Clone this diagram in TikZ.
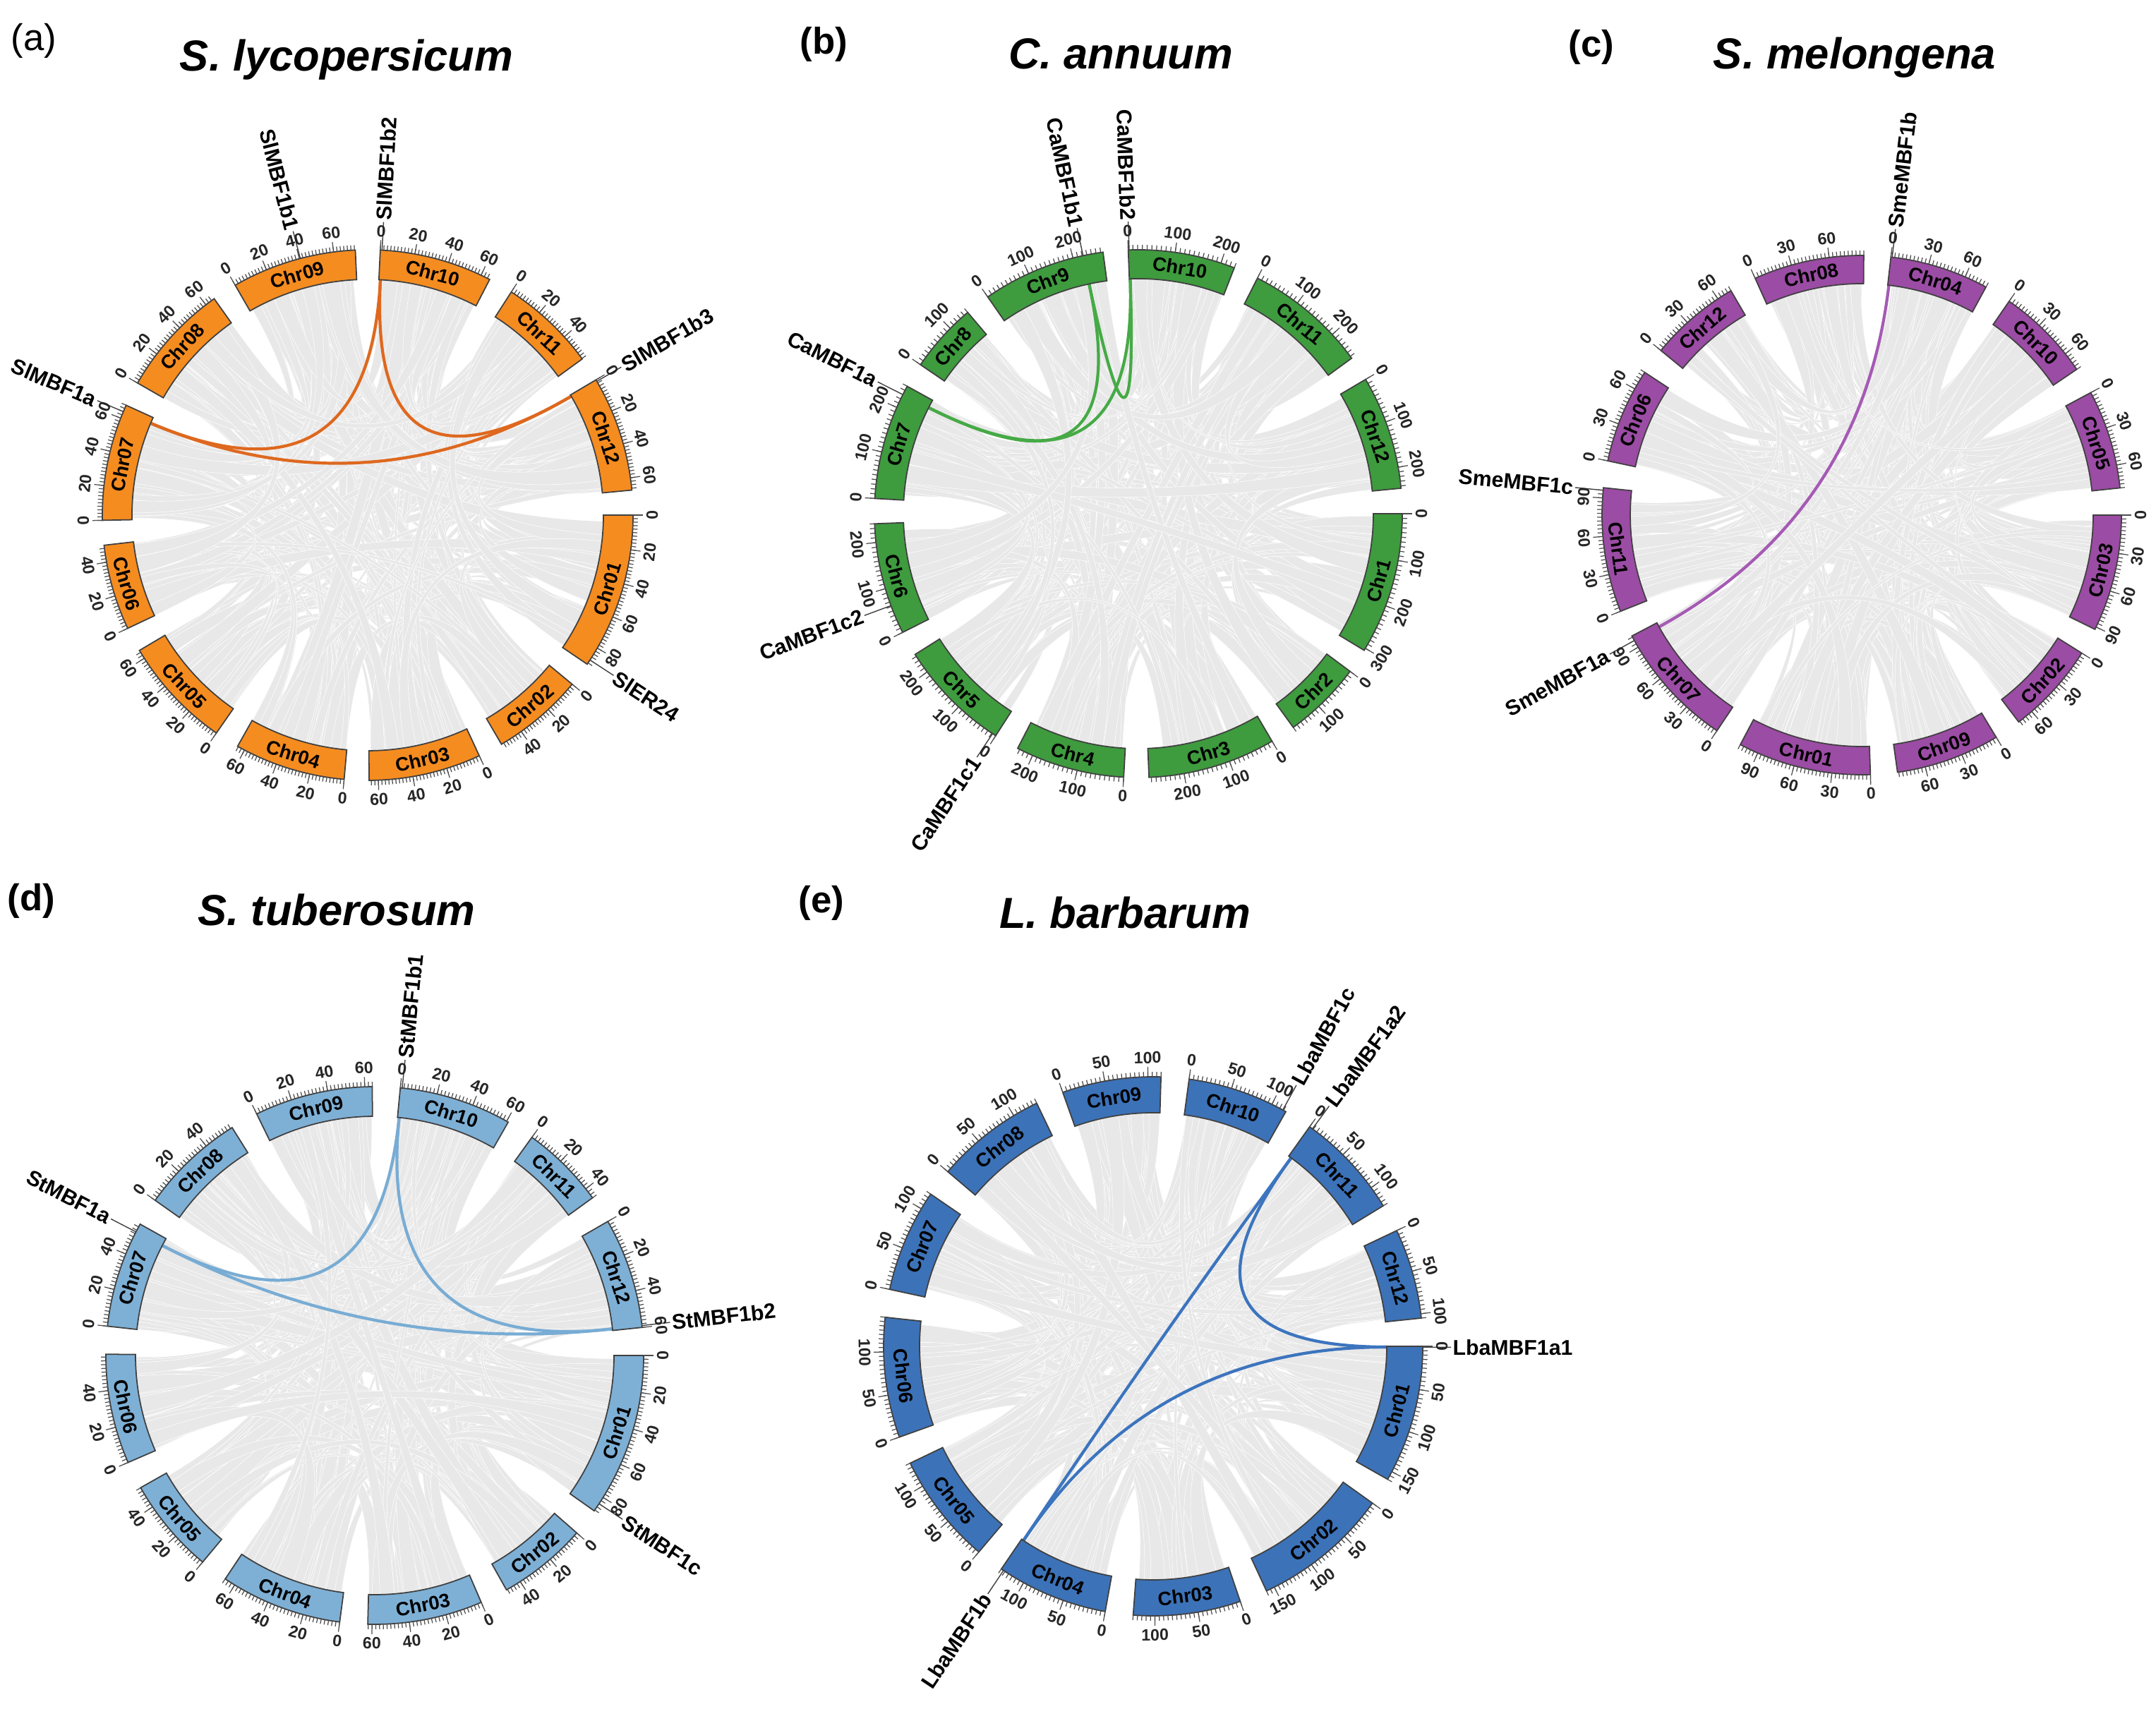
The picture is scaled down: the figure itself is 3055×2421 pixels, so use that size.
\documentclass[tikz,border=0pt]{standalone}
\usepackage{fontspec}
\setmainfont{Liberation Sans}
\usetikzlibrary{positioning}

\definecolor{tomato}{RGB}{245,140,32}
\definecolor{tomatolink}{RGB}{222,104,30}
\definecolor{pepper}{RGB}{62,155,62}
\definecolor{pepperlink}{RGB}{70,170,70}
\definecolor{eggplant}{RGB}{155,76,164}
\definecolor{eggplantlink}{RGB}{165,90,180}
\definecolor{potato}{RGB}{126,176,214}
\definecolor{potatolink}{RGB}{120,172,212}
\definecolor{goji}{RGB}{60,114,184}
\definecolor{gojilink}{RGB}{60,116,190}

\tikzset{
  ribbon/.style={fill=black!9, draw=white, line width=0.15pt},
  chrbox/.style={draw=black!75, line width=0.5pt},
  chrname/.style={font=\fontsize{7.8}{9}\selectfont\bfseries, inner sep=0pt},
  tickmark/.style={draw=black!70, line width=0.35pt},
  ticklab/.style={font=\fontsize{6.6}{7}\selectfont\bfseries, inner sep=0pt, text=black!85},
  genelab/.style={font=\fontsize{8.6}{10}\selectfont\bfseries, inner sep=0pt},
  geneline/.style={draw=black!75, line width=0.4pt},
  hlink/.style={line width=1.2pt},
  paneltag/.style={font=\fontsize{15}{18}\selectfont, inner sep=0pt},
  sptitle/.style={font=\fontsize{17.5}{20}\selectfont\bfseries\itshape, inner sep=0pt}
}

\def\glen{40}

\newcommand{\tangrot}[1]{%
  \pgfmathsetmacro\nrm{mod(#1+720,360)}%
  \pgfmathsetmacro\rot{\nrm<180 ? \nrm-90 : \nrm+90}%
}

\newcommand{\setupchroms}[1]{%
  \xdef\tot{0}%
  \foreach \cname/\clen in {#1} {%
    \pgfmathsetmacro\tmpa{\tot+\clen}\xdef\tot{\tmpa}%
  }%
  \pgfmathsetmacro\degpu{(360-12*\gapd)/\tot}%
  \xdef\acc{0}%
  \foreach \cname/\clen [count=\ci] in {#1} {%
    \pgfmathsetmacro\cst{-(\acc)}%
    \pgfmathsetmacro\csw{\clen*\degpu}%
    \expandafter\xdef\csname chs\ci\endcsname{\cst}%
    \expandafter\xdef\csname chw\ci\endcsname{\csw}%
    \expandafter\xdef\csname chl\ci\endcsname{\clen}%
    \expandafter\xdef\csname chn\ci\endcsname{\cname}%
    \pgfmathsetmacro\tmpa{\acc+\csw+\gapd}\xdef\acc{\tmpa}%
  }%
}

\newcommand{\ribbons}[2]{%
  \pgfmathsetseed{#1}%
  \foreach \ri in {1,...,#2} {%
    \pgfmathrandominteger{\ka}{1}{12}%
    \pgfmathrandominteger{\kd}{1}{11}%
    \pgfmathtruncatemacro{\kb}{mod(\ka+\kd-1,12)+1}%
    \pgfmathsetmacro{\wa}{1+3.5*rnd}%
    \pgfmathsetmacro{\qa}{\csname chs\ka\endcsname-(\csname chw\ka\endcsname-\wa)*rnd}%
    \pgfmathsetmacro{\qb}{\qa-\wa}%
    \pgfmathsetmacro{\qc}{\csname chs\kb\endcsname-(\csname chw\kb\endcsname-\wa)*rnd}%
    \pgfmathsetmacro{\qd}{\qc-\wa}%
    \filldraw[ribbon] (\qa:\Ri) arc[start angle=\qa, end angle=\qb, radius=\Ri]
      .. controls (\qb:{\Ri/3}) and (\qc:{\Ri/3}) .. (\qc:\Ri)
      arc[start angle=\qc, end angle=\qd, radius=\Ri]
      .. controls (\qd:{\Ri/3}) and (\qa:{\Ri/3}) .. (\qa:\Ri) -- cycle;
  }%
}

\newcommand{\gene}[4]{%
  \pgfmathsetmacro\gpang{\csname chs#2\endcsname-(#3)*\degpu}%
  \coordinate (#1) at (\gpang:\Ri);%
  \coordinate (#1-h) at (\gpang:{\Ri/3});%
  \pgfmathsetmacro\nrm{mod(\gpang+720,360)}%
  \pgfmathtruncatemacro\rside{(\nrm<90 || \nrm>=270) ? 1 : 0}%
  \ifnum\rside=1 \def\ganc{west}\pgfmathsetmacro\grot{\nrm}%
  \else \def\ganc{east}\pgfmathsetmacro\grot{\nrm+180}\fi
  \draw[geneline] (\gpang:\Ro) -- (\gpang:{\Ro+\glen});%
  \node[genelab, anchor=\ganc, rotate=\grot] (#1-l) at (\gpang:{\Ro+\glen+2}) {#4};%
}

\newcommand{\drawchroms}[3]{%
  \foreach \ci in {1,...,12} {%
    \edef\sa{\csname chs\ci\endcsname}%
    \edef\sw{\csname chw\ci\endcsname}%
    \edef\clen{\csname chl\ci\endcsname}%
    \pgfmathsetmacro\ea{\sa-\sw}%
    \draw[chrbox, fill=#1] (\sa:\Ri) arc[start angle=\sa, end angle=\ea, radius=\Ri]
      -- (\ea:\Ro) arc[start angle=\ea, end angle=\sa, radius=\Ro] -- cycle;%
    \pgfmathsetmacro\ma{\sa-\sw/2}%
    \tangrot{\ma}%
    \node[chrname, rotate=\rot] (\pn-chr\ci) at (\ma:{(\Ri+\Ro)/2}) {\csname chn\ci\endcsname};%
    \draw[tickmark] foreach \p in {0,#2,...,\clen} {({\sa-\p*\degpu}:\Ro) -- ({\sa-\p*\degpu}:{\Ro+7})};%
    \foreach \p in {0,#3,...,\clen} {%
      \pgfmathsetmacro\ta{\sa-\p*\degpu}%
      \pgfmathtruncatemacro\pl{\p}%
      \tangrot{\ta}%
      \draw[tickmark] (\ta:\Ro) -- (\ta:{\Ro+14});%
      \node[ticklab, rotate=\rot] (\pn-tk\ci-\pl) at (\ta:{\Ro+27}) {\pl};%
    }%
  }%
}

\begin{document}
\begin{tikzpicture}[x=0.01cm, y=0.01cm]
\fill[white] (0,0) rectangle (3055,2421);
\useasboundingbox (0,0) rectangle (3055,2421);

\node[paneltag, anchor=base west] (taga) at (15,2349) {(a)};
\node[sptitle, anchor=base] (titlea) at (491,2320) {S. lycopersicum};
\node[paneltag, anchor=base west, font=\fontsize{15}{18}\selectfont\bfseries] (tagb) at (1133,2344) {(b)};
\node[sptitle, anchor=base] (titleb) at (1588,2323) {C. annuum};
\node[paneltag, anchor=base west, font=\fontsize{15}{18}\selectfont\bfseries] (tagc) at (2222,2340) {(c)};
\node[sptitle, anchor=base] (titlec) at (2628,2323) {S. melongena};
\node[paneltag, anchor=base west, font=\fontsize{15}{18}\selectfont\bfseries] (tagd) at (10,1130) {(d)};
\node[sptitle, anchor=base] (titled) at (477,1109) {S. tuberosum};
\node[paneltag, anchor=base west, font=\fontsize{15}{18}\selectfont\bfseries] (tage) at (1131,1127) {(e)};
\node[sptitle, anchor=base] (titlee) at (1594,1105) {L. barbarum};

% (a) tomato
\begin{scope}[shift={(521,1691)}]
  \def\pn{a}\def\Ri{334}\def\Ro{376}\def\gapd{5.4}
  \setupchroms{Chr01/90.9,Chr02/53.5,Chr03/65.3,Chr04/64.5,Chr05/65.3,Chr06/49.8,Chr07/68.0,Chr08/65.9,Chr09/72.5,Chr10/65.5,Chr11/56.3,Chr12/67.1}
  \ribbons{17}{230}
  \gene{slb1}{9}{40.5}{SlMBF1b1}
  \gene{slb2}{10}{1}{SlMBF1b2}
  \gene{slb3}{12}{1}{SlMBF1b3}
  \gene{sla}{7}{64}{SlMBF1a}
  \gene{sler}{1}{88}{SlER24}
  \draw[hlink, tomatolink] (slb2) .. controls (slb2-h) and (sla-h) .. (sla);
  \draw[hlink, tomatolink] (slb2) .. controls (slb2-h) and (slb3-h) .. (slb3);
  \draw[hlink, tomatolink] (sla) .. controls (sla-h) and (slb3-h) .. (slb3);
  \drawchroms{tomato}{2}{20}
\end{scope}

% (b) pepper
\begin{scope}[shift={(1613,1693)}]
  \def\pn{b}\def\Ri{333}\def\Ro{374}\def\gapd{5.5}
  \setupchroms{Chr1/305,Chr2/170,Chr3/275,Chr4/235,Chr5/245,Chr6/240,Chr7/250,Chr8/150,Chr9/265,Chr10/230,Chr11/265,Chr12/245}
  \ribbons{23}{230}
  \gene{cab1}{9}{222}{CaMBF1b1}
  \gene{cab2}{10}{2}{CaMBF1b2}
  \gene{caa}{7}{230}{CaMBF1a}
  \gene{cac2}{6}{62}{CaMBF1c2}
  \gene{cac1}{5}{8}{CaMBF1c1}
  \draw[hlink, pepperlink] (cab1) .. controls (cab1-h) and (cab2-h) .. (cab2);
  \draw[hlink, pepperlink] (cab1) .. controls (cab1-h) and (caa-h) .. (caa);
  \draw[hlink, pepperlink] (cab2) .. controls (cab2-h) and (caa-h) .. (caa);
  \drawchroms{pepper}{10}{100}
\end{scope}

% (c) eggplant
\begin{scope}[shift={(2638,1691)}]
  \def\pn{c}\def\Ri{328}\def\Ro{368}\def\gapd{6}
  \setupchroms{Chr03/92,Chr02/73,Chr09/82,Chr01/105,Chr07/100,Chr11/98,Chr06/75,Chr12/72,Chr08/87,Chr04/78,Chr10/75,Chr05/78}
  \ribbons{31}{230}
  \gene{smb}{10}{1}{SmeMBF1b}
  \gene{smc}{6}{96}{SmeMBF1c}
  \gene{sma}{5}{96}{SmeMBF1a}
  \draw[hlink, eggplantlink] (smb) .. controls (smb-h) and (sma-h) .. (sma);
  \drawchroms{eggplant}{3}{30}
\end{scope}

% (d) potato
\begin{scope}[shift={(531,500)}]
  \def\pn{d}\def\Ri{339}\def\Ro{381}\def\gapd{6}
  \setupchroms{Chr01/88.6,Chr02/48.6,Chr03/62.3,Chr04/66,Chr05/52.1,Chr06/59.5,Chr07/57.7,Chr08/57,Chr09/64,Chr10/61,Chr11/46,Chr12/60}
  \ribbons{41}{230}
  \gene{stb1}{10}{1}{StMBF1b1}
  \gene{sta}{7}{53}{StMBF1a}
  \gene{stb2}{12}{59}{StMBF1b2}
  \gene{stc}{1}{84}{StMBF1c}
  \draw[hlink, potatolink] (stb1) .. controls (stb1-h) and (sta-h) .. (sta);
  \draw[hlink, potatolink] (stb1) .. controls (stb1-h) and (stb2-h) .. (stb2);
  \draw[hlink, potatolink] (sta) .. controls (sta-h) and (stb2-h) .. (stb2);
  \drawchroms{potato}{2}{20}
\end{scope}

% (e) goji
\begin{scope}[shift={(1634,513)}]
  \def\pn{e}\def\Ri{331}\def\Ro{382}\def\gapd{6}
  \setupchroms{Chr01/160,Chr02/160,Chr03/125,Chr04/130,Chr05/130,Chr06/140,Chr07/120,Chr08/130,Chr09/115,Chr10/118,Chr11/125,Chr12/105}
  \ribbons{53}{230}
  \gene{lbc}{10}{114}{LbaMBF1c}
  \gene{lba2}{11}{4}{LbaMBF1a2}
  \gene{lba1}{1}{1}{LbaMBF1a1}
  \gene{lbb}{4}{127}{LbaMBF1b}
  \draw[hlink, gojilink] (lba2) .. controls (lba2-h) and (lba1-h) .. (lba1);
  \draw[hlink, gojilink] (lba1) .. controls (lba1-h) and (lbb-h) .. (lbb);
  \draw[hlink, gojilink] (lba2) .. controls (lba2-h) and (lbb-h) .. (lbb);
  \drawchroms{goji}{5}{50}
\end{scope}
\end{tikzpicture}
\end{document}
